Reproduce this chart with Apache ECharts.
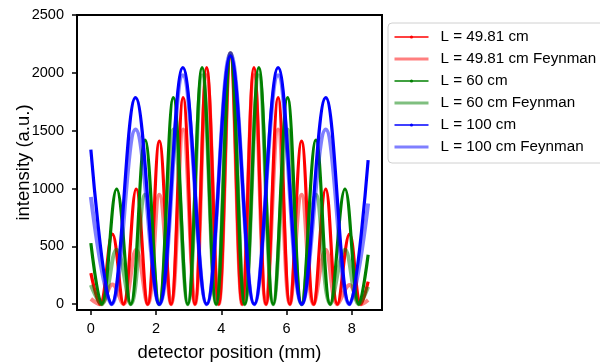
<!DOCTYPE html>
<html><head><meta charset="utf-8">
<script src="https://cdn.jsdelivr.net/npm/echarts@6/dist/echarts.min.js"></script>
<style>html,body{margin:0;padding:0;background:#fff}#c{width:600px;height:363px}</style>
</head><body><div id="c"></div>
<script>
// ---- data ----
const xTicks = [0, 2, 4, 6, 8];
const yTicks = [0, 500, 1000, 1500, 2000, 2500];

const redX = [0, 0.28, 0.66, 1.0, 1.39, 1.74, 2.1, 2.46, 2.83, 3.19, 3.55, 3.92, 4.28, 4.64, 5.0, 5.37, 5.74, 6.1, 6.46, 6.83, 7.2, 7.56, 7.93, 8.28, 8.5];
const redY = [269, 0, 606, 0, 996, 0, 1409, 0, 1785, 0, 2045, 0, 2146, 0, 2045, 0, 1785, 0, 1409, 0, 996, 0, 606, 0, 196];
const redFY = [46, 0, 170, 0, 470, 0, 947, 0, 1510, 0, 1980, 0, 2170, 0, 1980, 0, 1510, 0, 947, 0, 470, 0, 167, 0, 37];

const greenX = [0, 0.33, 0.79, 1.22, 1.66, 2.09, 2.53, 2.97, 3.41, 3.84, 4.28, 4.72, 5.15, 5.59, 6.03, 6.46, 6.9, 7.34, 7.79, 8.22, 8.5];
const greenY = [528, 0, 996, 0, 1418, 0, 1785, 0, 2045, 0, 2146, 0, 2045, 0, 1785, 0, 1418, 0, 996, 0, 427];
const greenFY = [167, 0, 470, 0, 947, 0, 1510, 0, 1980, 0, 2170, 0, 1980, 0, 1510, 0, 947, 0, 470, 0, 150];

const blueX = [0, 0.63, 1.37, 2.1, 2.82, 3.55, 4.28, 5.01, 5.74, 6.47, 7.2, 7.93, 8.5];
const blueY = [1337, 0, 1785, 0, 2045, 0, 2146, 0, 2045, 0, 1785, 0, 1245];
const blueFY = [927, 0, 1510, 0, 1980, 0, 2170, 0, 1980, 0, 1510, 0, 870];

const names = ['L = 49.81 cm', 'L = 49.81 cm Feynman', 'L = 60 cm', 'L = 60 cm Feynman', 'L = 100 cm', 'L = 100 cm Feynman'];

// ---- chart ----
function pairs(xs, ys) { return xs.map((x, i) => [x, ys[i]]); }
const FONT = '"Liberation Sans", Arial, Helvetica, sans-serif';
const SM = 0.4;

function measured(name, color, xs, ys) {
  return { name, type: 'line', data: pairs(xs, ys), smooth: SM, symbol: 'circle', symbolSize: 3, showSymbol: false,
    lineStyle: { color, width: 3.2 }, itemStyle: { color }, emphasis: { disabled: true } };
}
function feyn(name, color, xs, ys) {
  return { name, type: 'line', data: pairs(xs, ys), smooth: SM, symbol: 'none', showSymbol: false,
    lineStyle: { color, width: 4 }, itemStyle: { color }, emphasis: { disabled: true } };
}

const chart = echarts.init(document.getElementById('c'), null, { renderer: 'canvas' });
const tickStyle = { color: '#000', width: 1.5 };
chart.setOption({
  animation: false,
  textStyle: { fontFamily: FONT },
  grid: { left: 77, right: 218, top: 15, bottom: 53, show: true, borderColor: '#000', borderWidth: 2,
    backgroundColor: 'rgba(0,0,0,0)', containLabel: false, outerBoundsMode: 'none' },
  xAxis: {
    type: 'value', min: -0.425, max: 8.925,
    name: 'detector position (mm)', nameLocation: 'middle', nameGap: 33, nameMoveOverlap: false,
    nameTextStyle: { fontSize: 18.5, color: '#000', fontFamily: FONT },
    axisLine: { show: false, onZero: false }, splitLine: { show: false },
    axisTick: { show: true, length: 5, lineStyle: tickStyle, customValues: xTicks },
    axisLabel: { color: '#000', fontSize: 14.5, margin: 11, fontFamily: FONT, customValues: xTicks }
  },
  yAxis: {
    type: 'value', min: -50, max: 2500,
    name: 'intensity (a.u.)', nameLocation: 'middle', nameGap: 44, nameMoveOverlap: false,
    nameTextStyle: { fontSize: 18.5, color: '#000', fontFamily: FONT },
    axisLine: { show: false, onZero: false }, splitLine: { show: false },
    axisTick: { show: true, length: 5, lineStyle: tickStyle, customValues: yTicks },
    axisLabel: { color: '#000', fontSize: 14.5, margin: 13, fontFamily: FONT, customValues: yTicks, formatter: v => String(v) }
  },
  legend: {
    orient: 'vertical', left: 388, top: 23,
    itemWidth: 34, itemHeight: 4, itemGap: 6,
    padding: [6, 20, 8, 5],
    backgroundColor: '#fff', borderColor: '#d0d0d0', borderWidth: 1, borderRadius: 4,
    textStyle: { fontSize: 15.2, color: '#000', fontFamily: FONT, lineHeight: 16, padding: [0, 0, 0, 7] },
    data: [
      { name: names[0], lineStyle: { width: 1.5 } },
      { name: names[1], lineStyle: { width: 3 }, itemStyle: { opacity: 0 } },
      { name: names[2], lineStyle: { width: 1.5 } },
      { name: names[3], lineStyle: { width: 3 }, itemStyle: { opacity: 0 } },
      { name: names[4], lineStyle: { width: 1.5 } },
      { name: names[5], lineStyle: { width: 3 }, itemStyle: { opacity: 0 } }
    ]
  },
  series: [
    measured(names[0], '#ff0000', redX, redY),
    feyn(names[1], 'rgba(255,0,0,0.5)', redX, redFY),
    measured(names[2], '#008000', greenX, greenY),
    feyn(names[3], 'rgba(0,128,0,0.5)', greenX, greenFY),
    measured(names[4], '#0000ff', blueX, blueY),
    feyn(names[5], 'rgba(0,0,255,0.5)', blueX, blueFY)
  ]
});
</script>
</body></html>
